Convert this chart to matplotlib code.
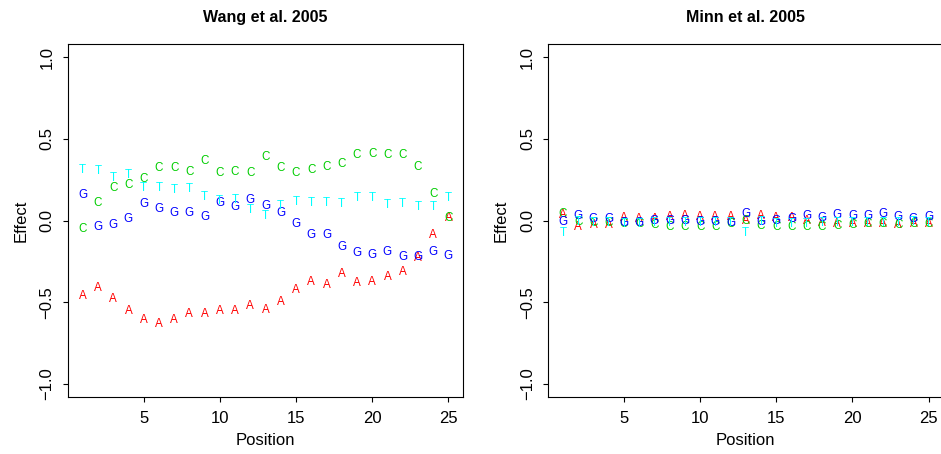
'''
Per-position base effects, two studies side by side
'''
import matplotlib
matplotlib.use('Agg')
import matplotlib.pyplot as plt

positions = list(range(1, 26))
bases = ['A', 'C', 'G', 'T']
base_colors = ['#FF0000', '#00CD00', '#0000FF', '#00FFFF']

# Wang et al. 2005
wang_A = [-0.453, -0.402, -0.469, -0.546, -0.597, -0.624, -0.597, -0.566, -0.563, -0.542,
          -0.542, -0.516, -0.538, -0.489, -0.417, -0.366, -0.388, -0.317, -0.372, -0.368,
          -0.335, -0.305, -0.219, -0.079, 0.026]
wang_C = [-0.045, 0.118, 0.211, 0.227, 0.266, 0.333, 0.333, 0.309, 0.374, 0.297,
          0.309, 0.297, 0.400, 0.333, 0.297, 0.321, 0.339, 0.354, 0.411, 0.419,
          0.411, 0.407, 0.339, 0.171, 0.026]
wang_G = [0.166, -0.030, -0.018, 0.016, 0.112, 0.078, 0.057, 0.057, 0.031, 0.118,
          0.092, 0.135, 0.098, 0.057, -0.010, -0.079, -0.079, -0.151, -0.189, -0.202,
          -0.182, -0.213, -0.213, -0.182, -0.208]
wang_T = [0.319, 0.313, 0.272, 0.287, 0.207, 0.207, 0.195, 0.201, 0.154, 0.130,
          0.136, 0.072, 0.034, 0.098, 0.124, 0.118, 0.118, 0.112, 0.145, 0.145,
          0.104, 0.108, 0.092, 0.092, 0.149]

# Minn et al. 2005
minn_A = [0.040, -0.031, -0.020, -0.020, 0.027, 0.016, 0.020, 0.033, 0.037, 0.033,
          0.031, 0.031, 0.006, 0.037, 0.027, 0.027, 0.006, -0.004, -0.014, -0.014,
          -0.014, -0.014, -0.020, -0.014, -0.014]
minn_C = [0.047, 0.003, -0.005, -0.005, -0.010, -0.010, -0.020, -0.029, -0.029, -0.031,
          -0.029, -0.010, 0.006, -0.025, -0.031, -0.031, -0.031, -0.031, -0.025, -0.020,
          -0.014, -0.014, -0.020, -0.014, -0.014]
minn_G = [0.000, 0.037, 0.020, 0.016, -0.004, -0.004, 0.006, 0.006, 0.006, 0.002,
          0.002, -0.004, 0.047, 0.000, 0.006, 0.016, 0.037, 0.027, 0.043, 0.037,
          0.037, 0.047, 0.033, 0.020, 0.033]
minn_T = [-0.070, 0.000, -0.004, -0.004, -0.010, -0.015, -0.004, -0.004, -0.004, -0.004,
          -0.004, -0.004, -0.070, 0.000, -0.014, -0.014, -0.014, -0.004, -0.004, -0.004,
          -0.004, -0.004, -0.004, 0.000, -0.004]

panels = [
    ('Wang et al. 2005', [wang_A, wang_C, wang_G, wang_T]),
    ('Minn et al. 2005', [minn_A, minn_C, minn_G, minn_T]),
]

x_ticks = [5, 10, 15, 20, 25]
y_ticks = [-1.0, -0.5, 0.0, 0.5, 1.0]
y_tick_labels = ['\u22121.0', '\u22120.5', '0.0', '0.5', '1.0']

plt.rcParams['font.family'] = ['Liberation Sans', 'DejaVu Sans']

fig = plt.figure(figsize=(9.41, 4.54), dpi=100)
lefts = [68 / 941, 548.3 / 941]
w, h = 395 / 941, 353 / 454
bottom = 57 / 454

for left, (title, series) in zip(lefts, panels):
    ax = fig.add_axes([left, bottom, w, h])
    for base, color, vals in zip(bases, base_colors, series):
        for x, y in zip(positions, vals):
            ax.text(x, y, base, color=color, fontsize=8.4,
                    ha='center', va='center_baseline')
    ax.set_xlim(0.04, 25.96)
    ax.set_ylim(-1.08, 1.08)
    ax.set_xticks(x_ticks)
    ax.set_yticks(y_ticks)
    ax.set_yticklabels(y_tick_labels, rotation=90, va='center')
    ax.tick_params(axis='both', direction='out', length=3.6, width=0.8,
                   labelsize=12)
    ax.tick_params(axis='x', pad=6.5)
    ax.tick_params(axis='y', pad=6)
    for s in ax.spines.values():
        s.set_linewidth(0.8)
    ax.set_xlabel('Position', fontsize=12, labelpad=5)
    ax.set_ylabel('Effect', fontsize=12, labelpad=8)
    ax.set_title(title, fontsize=11.5, fontweight='bold', pad=16)

fig.savefig('out.png', dpi=100)
